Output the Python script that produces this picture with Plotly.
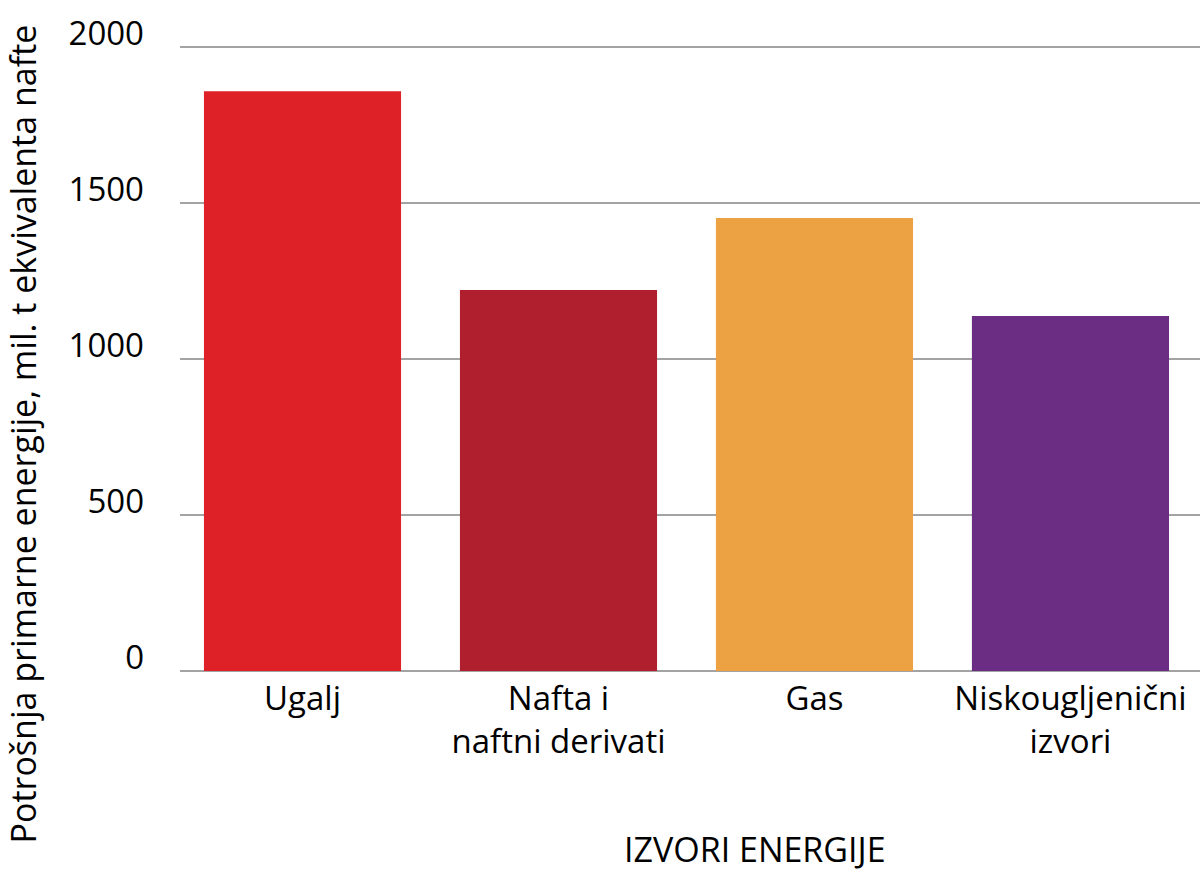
import plotly.graph_objects as go

categories = ["Ugalj", "Nafta i<br>naftni derivati", "Gas", "Niskougljenični<br>izvori"]
values = [1858, 1221, 1452, 1138]
colors = ["#DE2027", "#AF1F2E", "#ECA242", "#6A2D83"]
y_ticks = [0, 500, 1000, 1500, 2000]
y_title = "Potrošnja primarne energije, mil. t ekvivalenta nafte"
x_title = "IZVORI ENERGIJE"

FONT = "Open Sans"

fig = go.Figure(go.Bar(x=[0, 1, 2, 3], y=values, marker=dict(color=colors, line=dict(width=0)),
                       width=0.77))

fig.update_layout(
    template="none",
    width=1200, height=872,
    margin=dict(l=180, r=0, t=42, b=201, autoexpand=False),
    plot_bgcolor="white", paper_bgcolor="white",
    showlegend=False,
    font=dict(family=FONT, color="black"),
    xaxis=dict(
        tickmode="array", tickvals=[0, 1, 2, 3], ticktext=categories,
        range=[-0.4785, 3.506], showgrid=False, showline=False, zeroline=False,
        automargin=False,
        ticks="", tickfont=dict(size=33, family=FONT), ticklabelstandoff=5,
    ),
    yaxis=dict(
        range=[0, 2016], tickmode="array", tickvals=y_ticks,
        showgrid=True, gridcolor="#A3A3A3", gridwidth=1.5,
        zeroline=True, zerolinecolor="#A3A3A3", zerolinewidth=1.5,
        automargin=False,
        showline=False, ticks="", tickfont=dict(size=33, family=FONT),
        ticklabelstandoff=35, ticklabelshift=-14,
    ),
    annotations=[
        dict(text=y_title, textangle=-90, xref="paper", yref="paper",
             x=(22 - 180) / 1020, y=(671 - 846) / 629, xanchor="center", yanchor="bottom",
             showarrow=False, font=dict(size=34, family=FONT)),
        dict(text=x_title, xref="paper", yref="paper",
             x=(755 - 180) / 1020, y=(671 - 849) / 629, xanchor="center", yanchor="middle",
             showarrow=False, font=dict(size=34, family=FONT)),
    ],
)

fig.write_html("out.html", config={"displayModeBar": False},
               post_script="document.body.style.margin='0';document.body.style.padding='0';")
